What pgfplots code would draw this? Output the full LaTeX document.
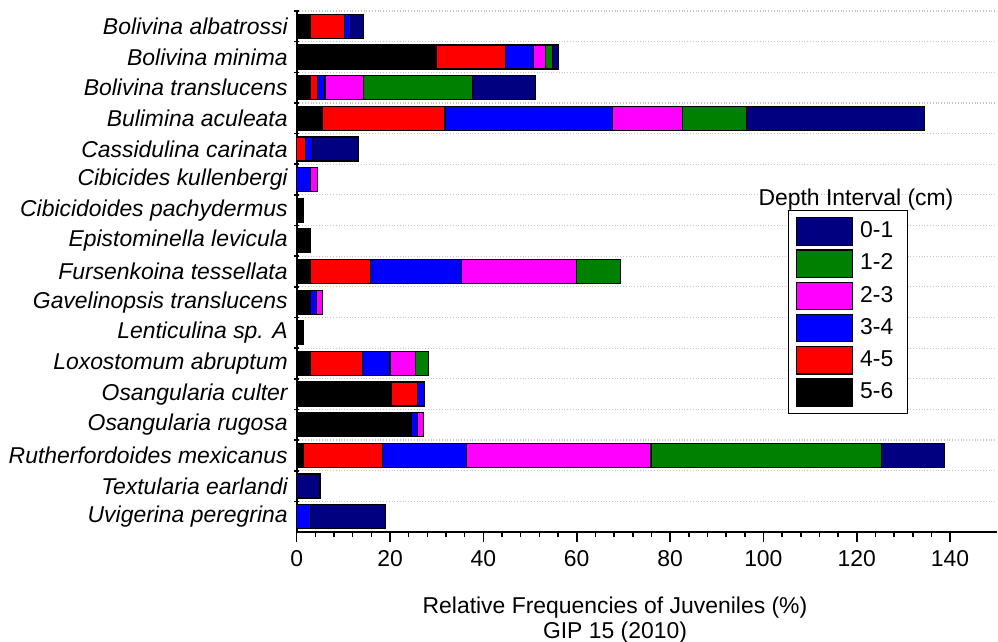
\documentclass[border=0pt]{standalone}
\usepackage{fontspec}
\setmainfont{Liberation Sans}
\usepackage{pgfplots}
\usepackage{pgfplotstable}
\pgfplotsset{compat=1.18}
\definecolor{cnavy}{RGB}{0,0,128}
\definecolor{cgreen}{RGB}{0,128,0}
\definecolor{cmag}{RGB}{255,0,255}
\definecolor{cblue}{RGB}{0,0,255}
\definecolor{cred}{RGB}{255,0,0}

\pgfplotstableread{
idx s56 s45 s34 s23 s12 s01
0 2.85 7.35 1.4 0 0 2.7
1 29.85 14.95 5.9 2.7 1.4 1.3
2 2.85 1.65 1.57 8.23 23.3 13.6
3 5.5 26.3 35.8 15.0 13.7 38.3
4 0 1.85 1.5 0 0 9.95
5 0 0 3.0 1.4 0 0
6 1.43 0 0 0 0 0
7 2.85 0 0 0 0 0
8 2.85 13.0 19.5 24.65 9.3 0
9 2.85 0 1.43 1.29 0 0
10 1.43 0 0 0 0 0
11 2.85 11.2 5.95 5.4 2.8 0
12 20.35 5.55 1.5 0 0 0
13 24.5 0 1.35 1.35 0 0
14 1.43 16.9 18.0 39.6 49.3 13.6
15 0 0 0 0 0 5.0
16 0 0 3.0 0 0 16.1
}\data

\begin{document}
\fontsize{11.5}{13.8}\selectfont
\begin{tikzpicture}
\path[use as bounding box] (-148.35bp,-55bp) rectangle (350.65bp,266bp);
\begin{axis}[
  at={(0,0)}, anchor=south west,
  scale only axis, width=350bp, height=260.5bp,
  clip=false,
  xbar stacked, bar width=12bp,
  xmin=0, xmax=150, ymin=-0.5, ymax=16.5, y dir=reverse,
  axis x line*=bottom, axis y line*=left,
  axis line style={line width=0.9bp},
  xtick={0,20,...,140}, minor x tick num=4,
  ytick={0,...,16},
  yticklabels={Bolivina albatrossi, Bolivina minima, Bolivina translucens, Bulimina aculeata, Cassidulina carinata, Cibicides kullenbergi, Cibicidoides pachydermus, Epistominella levicula, Fursenkoina tessellata, Gavelinopsis translucens, Lenticulina sp. A, Loxostomum abruptum, Osangularia culter, Osangularia rugosa, Rutherfordoides mexicanus, Textularia earlandi, Uvigerina peregrina},
  minor ytick={-0.5,0.5,...,15.5},
  yminorgrids, minor grid style={densely dotted, gray!45, line width=0.6bp},
  tick align=outside, major tick length=5bp, minor tick length=2.5bp,
  every major y tick/.append style={draw=none},
  every minor y tick/.append style={xshift=1.25bp},
  tick style={black, line width=0.8bp},
  yticklabel style={font=\itshape, xshift=4.5bp},
  /pgf/number format/assume math mode=true,
  reverse legend,
  legend cell align=left,
  legend image code/.code={\draw[#1, line width=0.6bp] (0bp,-6.875bp) rectangle (28bp,6.875bp);},
  legend style={at={(0.7019,0.618)}, anchor=north west, draw=black, line width=0.6bp,
    inner xsep=3.5bp, inner ysep=3.25bp, row sep=1.75bp, column sep=3.65bp,
    nodes={inner sep=0pt, text width=20bp}},
]
\addplot[fill=black, draw=black, line width=0.6bp] table[x=s56, y=idx]{\data};
\addlegendentry{5-6}
\addplot[fill=cred, draw=black, line width=0.6bp] table[x=s45, y=idx]{\data};
\addlegendentry{4-5}
\addplot[fill=cblue, draw=black, line width=0.6bp] table[x=s34, y=idx]{\data};
\addlegendentry{3-4}
\addplot[fill=cmag, draw=black, line width=0.6bp] table[x=s23, y=idx]{\data};
\addlegendentry{2-3}
\addplot[fill=cgreen, draw=black, line width=0.6bp] table[x=s12, y=idx]{\data};
\addlegendentry{1-2}
\addplot[fill=cnavy, draw=black, line width=0.6bp] table[x=s01, y=idx]{\data};
\addlegendentry{0-1}
\node[anchor=base] at (axis description cs:0.799,0.6276) {Depth Interval (cm)};
\node[anchor=base] at (axis description cs:0.4547,-0.1555) {Relative Frequencies of Juveniles (\%)};
\node[anchor=base] at (axis description cs:0.4547,-0.2035) {GIP 15 (2010)};
\end{axis}
\end{tikzpicture}
\end{document}
